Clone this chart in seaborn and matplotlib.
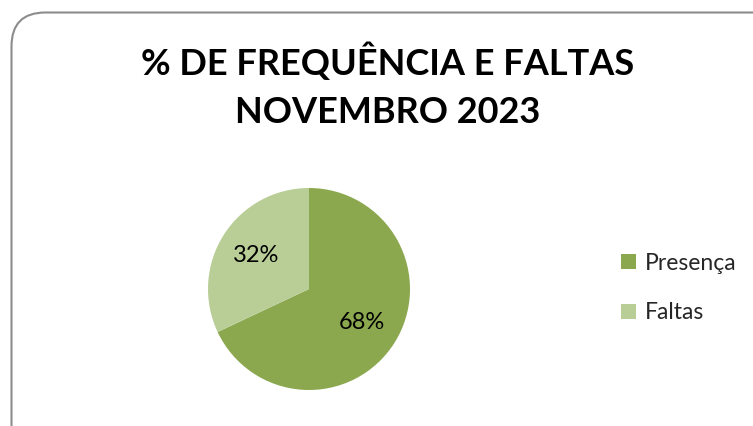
import seaborn as sns
import matplotlib.pyplot as plt
from matplotlib.patches import FancyBboxPatch

labels = ["Presença", "Faltas"]
values = [68, 32]
colors = ["#8BA84F", "#B9CE97"]
title = "% DE FREQUÊNCIA E FALTAS\nNOVEMBRO 2023"

sns.set_theme(style="white")
plt.rcParams["font.family"] = ["Lato", "DejaVu Sans"]

W, H = 753, 426
fig = plt.figure(figsize=(W / 100, H / 100), dpi=100)

# rounded chart border (runs off right/bottom like the screenshot)
border = FancyBboxPatch((11.5 / W, -40 / H), (W + 40) / W, (H + 40 - 12.5) / H,
                        boxstyle="round,pad=0,rounding_size=0.045",
                        transform=fig.transFigure, fill=False,
                        edgecolor="#8c8c8c", linewidth=1.5,
                        mutation_aspect=W / H)
fig.patches.append(border)

fig.text(388 / W, 1 - 86 / H, title, ha="center", va="center",
         fontsize=26, fontweight="bold", color="black", linespacing=1.57)

cx, cy, r = 309, 289, 101
ax = fig.add_axes([(cx - r) / W, 1 - (cy + r) / H, 2 * r / W, 2 * r / H])
wedges, _, autotexts = ax.pie(values, colors=colors, startangle=90,
                              counterclock=False, autopct="%1.0f%%",
                              pctdistance=0.62, radius=1,
                              wedgeprops={"linewidth": 0},
                              textprops={"fontsize": 17, "color": "black"})
ax.set_xlim(-1, 1)
ax.set_ylim(-1, 1)
ax.set_aspect("equal")
ax.axis("off")

fig.legend(wedges, labels, loc="center left",
           bbox_to_anchor=(600 / W, 1 - 288 / H), frameon=False,
           fontsize=16.5, handlelength=0.65, handleheight=0.65,
           handletextpad=0.4, labelspacing=1.25)

fig.savefig("out.png", dpi=100)
